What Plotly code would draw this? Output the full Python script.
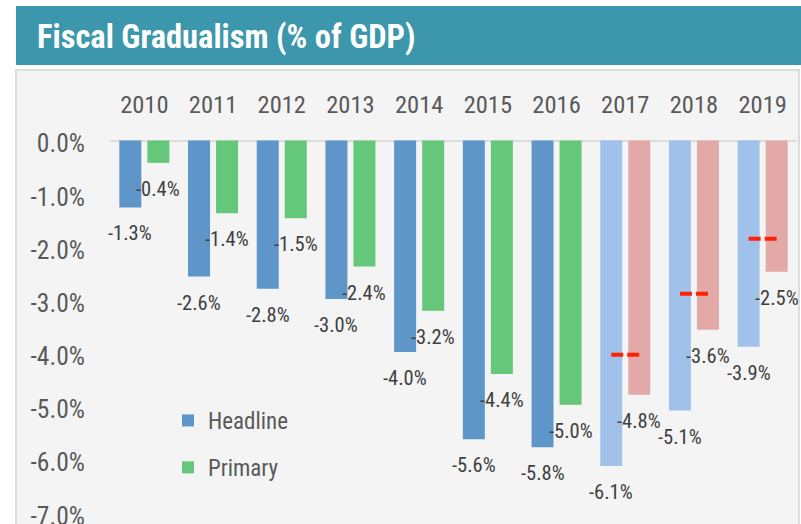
import plotly.graph_objects as go

# ---------------- data ----------------
years = ["2010", "2011", "2012", "2013", "2014", "2015", "2016", "2017", "2018", "2019"]
headline = [-1.26, -2.56, -2.79, -2.98, -3.98, -5.62, -5.77, -6.12, -5.08, -3.88]
primary = [-0.42, -1.37, -1.46, -2.37, -3.20, -4.39, -4.97, -4.78, -3.56, -2.47]
projected = [False] * 7 + [True] * 3
target_years = ["2017", "2018", "2019"]
targets = [-4.03, -2.88, -1.85]
y_ticks = [0, -1, -2, -3, -4, -5, -6, -7]

# ---------------- style ----------------
W, H = 801, 524
L, R, T, B = 110, 4, 139, 0
PW, PH = W - L - R, H - T - B
PX_PER_UNIT = 53.17
ZERO_PX = 140.5
FONT = "Liberation Sans Narrow, Arial Narrow, Roboto Condensed, DejaVu Sans Condensed, sans-serif"

C_HEAD = "#5E96C9"
C_HEAD_P = "#A0C2EA"
C_PRIM = "#64C77A"
C_PRIM_P = "#E3A9A8"
C_RED = "#FF2200"

BAR_W = 0.32
HALF_OFF = 0.204


def fx(px):
    return (px - L) / PW


def fy(py):
    return (H - B - py) / PH


idx = list(range(len(years)))

fig = go.Figure()

fig.add_trace(go.Bar(
    x=idx, y=headline, name="Headline", width=BAR_W, offset=-HALF_OFF - BAR_W / 2,
    marker=dict(color=[C_HEAD_P if p else C_HEAD for p in projected], line=dict(width=0)),
    legendgroup="h", hoverinfo="skip",
))
fig.add_trace(go.Bar(
    x=idx, y=primary, name="Primary", width=BAR_W, offset=HALF_OFF - BAR_W / 2,
    marker=dict(color=[C_PRIM_P if p else C_PRIM for p in projected], line=dict(width=0)),
    legendgroup="p", hoverinfo="skip",
))

for ty, tv in zip(target_years, targets):
    i = years.index(ty)
    fig.add_trace(go.Scatter(
        x=[i - HALF_OFF, i + HALF_OFF], y=[tv, tv], mode="lines",
        line=dict(color=C_RED, width=4, dash="12px,4px"),
        showlegend=False, hoverinfo="skip",
    ))

annotations = []
for i, (h, p) in enumerate(zip(headline, primary)):
    for xv, yv in ((i - HALF_OFF, h), (i + HALF_OFF, p)):
        annotations.append(dict(
            x=xv, y=yv, xref="x", yref="y", text=f"{yv:.1f}%", showarrow=False,
            yshift=-26, xanchor="center", yanchor="middle",
            font=dict(family=FONT, size=20.5, color="#404040"),
        ))

annotations.append(dict(
    x=fx(35), y=fy(37), xref="paper", yref="paper", text="Fiscal Gradualism (% of GDP)",
    showarrow=False, xanchor="left", yanchor="middle",
    font=dict(family=FONT, size=32.5, color="white", weight="bold"),
))

shapes = [
    dict(type="rect", xref="paper", yref="paper", x0=fx(16), x1=fx(801), y0=fy(65), y1=fy(6),
         fillcolor="#3C97AC", line=dict(width=0), layer="below"),
    dict(type="rect", xref="paper", yref="paper", x0=fx(16), x1=fx(799), y0=fy(530), y1=fy(70),
         fillcolor="#F4F4F4", line=dict(color="#DCDCDC", width=2), layer="below"),
]

fig.update_layout(
    width=W, height=H,
    margin=dict(l=L, r=R, t=T, b=B, pad=0, autoexpand=False),
    paper_bgcolor="white", plot_bgcolor="rgba(0,0,0,0)",
    barmode="overlay",
    showlegend=True,
    legend=dict(
        x=fx(168), y=fy(399), xanchor="left", yanchor="top",
        bgcolor="rgba(0,0,0,0)", borderwidth=0,
        font=dict(family=FONT, size=23, color="#595959"),
        traceorder="grouped", tracegroupgap=14, itemwidth=30,
    ),
    xaxis=dict(
        range=[-0.5, len(years) - 0.5], tickvals=idx, ticktext=years, side="top",
        showgrid=False, zeroline=False, showline=False, automargin=False,
        ticks="outside", ticklen=0, ticklabelstandoff=15,
        tickfont=dict(family=FONT, size=24.5, color="#595959"),
    ),
    yaxis=dict(
        range=[-(H - B - ZERO_PX) / PX_PER_UNIT, (ZERO_PX - T) / PX_PER_UNIT],
        tickvals=y_ticks, ticktext=[f"{v:.1f}%" if v != 0 else "0.0%" for v in y_ticks],
        showgrid=False, showline=False, automargin=False,
        zeroline=True, zerolinecolor="#DCDCDC", zerolinewidth=2,
        ticks="outside", ticklen=0, ticklabelstandoff=19, ticklabelshift=3,
        ticklabeloverflow="allow",
        tickfont=dict(family=FONT, size=25.5, color="#595959"),
    ),
    annotations=annotations,
    shapes=shapes,
)

fig.write_html(
    "out.html",
    config={"displayModeBar": False},
    post_script="document.body.style.margin='0';document.body.style.overflow='hidden';",
)
